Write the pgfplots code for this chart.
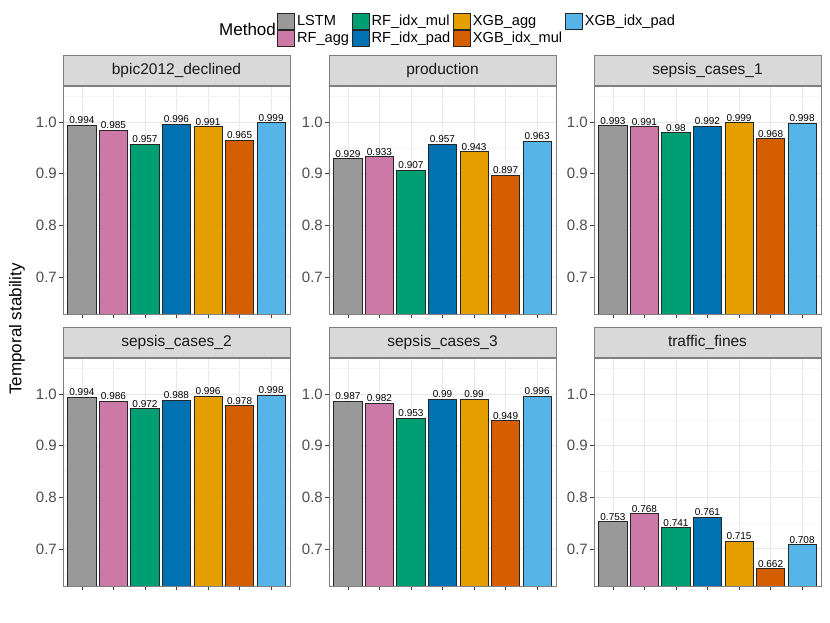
\documentclass[border=0pt]{standalone}
\usepackage{pgfplots}
\usepackage{pgfplotstable}
\usepackage{fontspec}
\setmainfont{Liberation Sans}
\pgfplotsset{compat=1.18}

\definecolor{cLSTM}{HTML}{999999}
\definecolor{cRFagg}{HTML}{CC79A7}
\definecolor{cRFmul}{HTML}{009E73}
\definecolor{cRFpad}{HTML}{0072B2}
\definecolor{cXGBagg}{HTML}{E69F00}
\definecolor{cXGBmul}{HTML}{D55E00}
\definecolor{cXGBpad}{HTML}{56B4E9}
\definecolor{gridmaj}{HTML}{E8E8E8}
\definecolor{gridmin}{HTML}{F5F5F5}
\definecolor{frame}{HTML}{7F7F7F}
\definecolor{stripfill}{HTML}{D9D9D9}
\definecolor{ticktext}{HTML}{4D4D4D}

% temporal stability per method (rows) and log (columns)
\pgfplotstableread{
x bpic  production sepsisA sepsisB sepsisC traffic
1 0.994 0.929 0.993 0.994 0.987 0.753
2 0.985 0.933 0.991 0.986 0.982 0.768
3 0.957 0.907 0.98  0.972 0.953 0.741
4 0.996 0.957 0.992 0.988 0.99  0.761
5 0.991 0.943 0.999 0.996 0.99  0.715
6 0.965 0.897 0.968 0.978 0.949 0.662
7 0.999 0.963 0.998 0.998 0.996 0.708
}\stab

\newcommand{\onebar}[4]{%
  \addplot[fill=#2, bar shift=0pt, bar width=0.9]
    table[x=x, y=#1, restrict x to domain=#3:#4] {\stab};}
% order gives a row-wise legend: LSTM, RF_idx_mul, XGB_agg, XGB_idx_pad / RF_agg, RF_idx_pad, XGB_idx_mul
\newcommand{\panelbars}[1]{%
  \onebar{#1}{cLSTM}{0.5}{1.5}
  \onebar{#1}{cRFmul}{2.5}{3.5}
  \onebar{#1}{cXGBagg}{4.5}{5.5}
  \onebar{#1}{cXGBpad}{6.5}{7.5}
  \onebar{#1}{cRFagg}{1.5}{2.5}
  \onebar{#1}{cRFpad}{3.5}{4.5}
  \onebar{#1}{cXGBmul}{5.5}{6.5}}

\pgfplotsset{
  panel/.style={
    scale only axis, width=227pt, height=228pt, anchor=south west,
    xmin=0.4, xmax=7.6, ymin=0.628, ymax=1.070,
    ybar,
    xtick={1,...,7}, xticklabels={},
    ytick={0.7,0.8,0.9,1.0}, minor ytick={0.65,0.75,0.85,0.95,1.05},
    xmajorgrids, ymajorgrids, yminorgrids,
    major grid style={draw=gridmaj, line width=0.8pt},
    minor grid style={draw=gridmin, line width=0.5pt},
    axis line style={draw=frame, line width=0.8pt},
    tick align=outside, tick pos=left,
    major tick length=4pt, minor tick length=0pt,
    tick style={draw=black!75, line width=0.6pt},
    yticklabel style={font=\fontsize{15}{15}\selectfont, text=ticktext, inner sep=2pt,
      /pgf/number format/.cd, fixed, fixed zerofill, precision=1, assume math mode=true},
    every axis plot/.append style={draw=black!85, line width=0.6pt, bar shift=0pt, bar width=0.9},
    nodes near coords={\pgfmathprintnumber[fixed, precision=3, assume math mode=true]{\pgfplotspointmeta}},
    every node near coord/.append style={font=\fontsize{10}{10}\selectfont, inner sep=1pt, text=black},
    every axis title/.style={at={(0.5,1)}, anchor=south, fill=stripfill, draw=frame,
      line width=0.8pt, minimum width=227pt, minimum height=30pt, inner sep=0pt,
      font=\fontsize{15.5}{15.5}\selectfont, text=black!90},
  },
}

\begin{document}
\begin{tikzpicture}
\useasboundingbox (0,0) rectangle (830pt,623pt);

\begin{axis}[panel, at={(63pt,309pt)}, title={bpic2012\_declined},
  legend columns=4, legend cell align=left,
  legend image code/.code={\draw[#1, draw=black!85] (0pt,-8pt) rectangle (17pt,8pt);},
  legend style={at={(0.9427,1.320)}, anchor=north west, draw=none, fill=none,
    inner sep=0pt, outer sep=0pt, row sep=0pt, column sep=1.5pt,
    font=\fontsize{14.6}{14.6}\selectfont, nodes={inner xsep=1pt, inner ysep=0pt}}]
\panelbars{bpic}
\legend{LSTM, RF\_idx\_mul, XGB\_agg, XGB\_idx\_pad, RF\_agg, RF\_idx\_pad, XGB\_idx\_mul}
\end{axis}

\begin{axis}[panel, at={(329pt,309pt)}, title={production}]
\panelbars{production}
\end{axis}

\begin{axis}[panel, at={(594pt,309pt)}, title={sepsis\_cases\_1}]
\panelbars{sepsisA}
\end{axis}

\begin{axis}[panel, at={(63pt,37pt)}, title={sepsis\_cases\_2}]
\panelbars{sepsisB}
\end{axis}

\begin{axis}[panel, at={(329pt,37pt)}, title={sepsis\_cases\_3}]
\panelbars{sepsisC}
\end{axis}

\begin{axis}[panel, at={(594pt,37pt)}, title={traffic\_fines}]
\panelbars{traffic}
\end{axis}

\node[rotate=90, font=\fontsize{17}{17}\selectfont] at (17pt,294pt) {Temporal stability};
\node[anchor=west, font=\fontsize{17}{17}\selectfont, inner sep=0pt] at (219pt,594pt) {Method};
\end{tikzpicture}
\end{document}
